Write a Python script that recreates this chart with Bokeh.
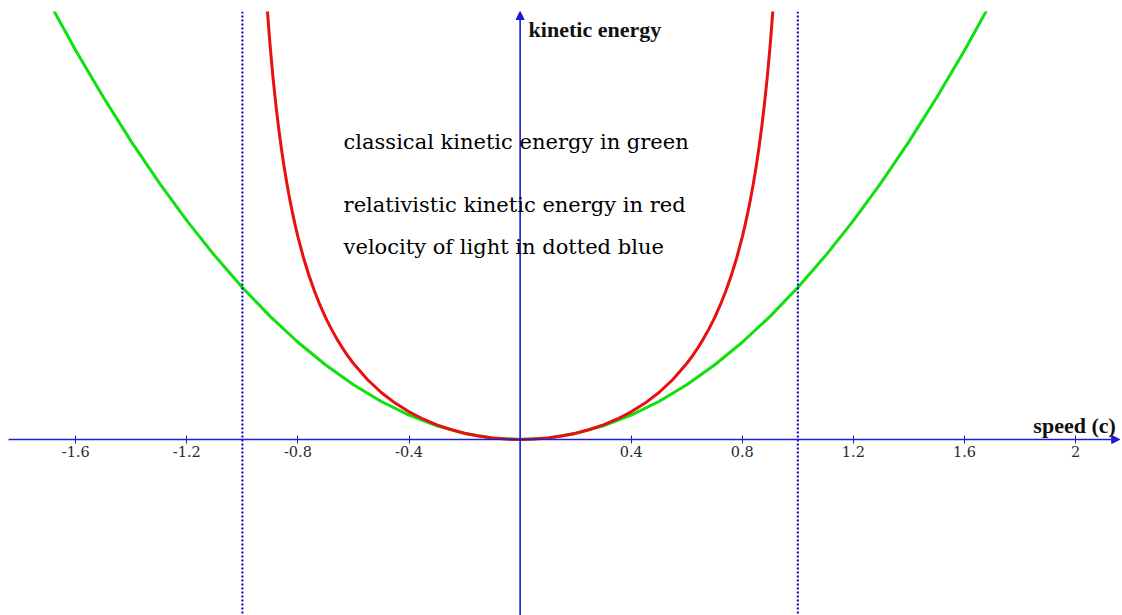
from bokeh.plotting import figure
from bokeh.models import (LinearAxis, FixedTicker, CustomJSTickFormatter, Span,
                          Arrow, NormalHead, Label, Range1d)
from bokeh.embed import file_html
from bokeh.resources import INLINE

# Speed in units of c (positive half; the curves are mirrored about v = 0)
speed_classical = [0.0, 0.1, 0.2, 0.3, 0.4, 0.5, 0.6, 0.7, 0.8, 0.9, 1.0,
                   1.1, 1.2, 1.3, 1.4, 1.5, 1.6, 1.7, 1.8]
# Classical kinetic energy (units of m c^2)
ke_classical = [0.0, 0.005, 0.02, 0.045, 0.08, 0.125, 0.18, 0.245, 0.32, 0.405, 0.5,
                0.605, 0.72, 0.845, 0.98, 1.125, 1.28, 1.445, 1.62]

speed_relativistic = [0.0, 0.05, 0.1, 0.15, 0.2, 0.25, 0.3, 0.35, 0.4, 0.45, 0.5, 0.55,
                      0.6, 0.62, 0.64, 0.66, 0.68, 0.7, 0.72, 0.74, 0.76, 0.78, 0.8,
                      0.81, 0.82, 0.83, 0.84, 0.85, 0.86, 0.87, 0.88, 0.89, 0.9,
                      0.905, 0.91, 0.915, 0.92, 0.93]
# Relativistic kinetic energy (units of m c^2)
ke_relativistic = [0.0, 0.00125, 0.00504, 0.01144, 0.02062, 0.03280, 0.04828, 0.06752,
                   0.09109, 0.11979, 0.15470, 0.19737, 0.25, 0.27453, 0.30145, 0.33109,
                   0.36386, 0.40028, 0.44098, 0.48675, 0.53864, 0.59801, 0.66667,
                   0.70523, 0.74714, 0.79288, 0.84302, 0.89832, 0.95966, 1.02819,
                   1.10538, 1.19317, 1.29416, 1.35067, 1.41192, 1.47860, 1.55155, 1.72064]

light_speed = [-1.0, 1.0]

tick_values = [-1.6, -1.2, -0.8, -0.4, 0.4, 0.8, 1.2, 1.6, 2.0]
tick_labels = ["-1.6", "-1.2", "-0.8", "-0.4", "0.4", "0.8", "1.2", "1.6", "2"]

notes = ["classical kinetic energy in green",
         "relativistic kinetic energy in red",
         "velocity of light in dotted blue"]


def mirrored(xs, ys):
    left_x = [-x for x in reversed(xs[1:])]
    left_y = list(reversed(ys[1:]))
    return left_x + list(xs), left_y + list(ys)


X_MIN, X_MAX = -1.871, 2.169
Y_MIN, Y_MAX = -0.579, 1.408

AXIS_BLUE = "#1c1cd0"
DOT_BLUE = "#0000c0"
GREEN = "#10e010"
RED = "#e81010"

p = figure(width=1122, height=615,
           x_range=Range1d(X_MIN, X_MAX), y_range=Range1d(Y_MIN, Y_MAX),
           x_axis_location=None, y_axis_location=None,
           toolbar_location=None, output_backend="svg",
           min_border=0, min_border_top=11,
           outline_line_color=None,
           background_fill_color="white", border_fill_color="white")
p.grid.visible = False

# vertical lines at the speed of light
for c in light_speed:
    p.add_layout(Span(location=c, dimension="height", line_color=DOT_BLUE,
                      line_width=2, line_dash="2 2"))

# axes drawn through the origin, with arrow heads
p.add_layout(Arrow(x_start=-1.842, y_start=0, x_end=2.159, y_end=0,
                   line_color=AXIS_BLUE, line_width=1.6,
                   end=NormalHead(size=8, fill_color=AXIS_BLUE, line_color=AXIS_BLUE)))
p.add_layout(Arrow(x_start=0, y_start=Y_MIN, x_end=0, y_end=Y_MAX,
                   line_color=AXIS_BLUE, line_width=1.6,
                   end=NormalHead(size=8, fill_color=AXIS_BLUE, line_color=AXIS_BLUE)))

xaxis = LinearAxis(
    ticker=FixedTicker(ticks=tick_values),
    formatter=CustomJSTickFormatter(
        args=dict(vals=tick_values, labs=tick_labels),
        code="const i = vals.findIndex(v => Math.abs(v - tick) < 1e-9); return i >= 0 ? labs[i] : '';"),
    fixed_location=0,
    axis_line_color=None,
    major_tick_line_color=AXIS_BLUE, major_tick_line_width=1,
    major_tick_in=4, major_tick_out=4,
    minor_tick_line_color=None,
    major_label_text_font="DejaVu Serif",
    major_label_text_font_size="14.5px",
    major_label_text_color="#2a2a2a",
    major_label_standoff=3,
)
p.add_layout(xaxis, "below")

# curves
gx, gy = mirrored(speed_classical, ke_classical)
p.line(gx, gy, line_color=GREEN, line_width=3, line_join="round")
rx, ry = mirrored(speed_relativistic, ke_relativistic)
p.line(rx, ry, line_color=RED, line_width=3, line_join="round")

# axis titles
p.add_layout(Label(x=0.0306, y=1.349, text="kinetic energy",
                   text_font="Liberation Serif", text_font_style="bold",
                   text_font_size="22px", text_color="#111111",
                   text_baseline="alphabetic"))
p.add_layout(Label(x=1.848, y=0.046, text="speed (c)",
                   text_font="Liberation Serif", text_font_style="bold",
                   text_font_size="22px", text_color="#111111",
                   text_baseline="alphabetic"))

# explanatory notes
for txt, yy in zip(notes, [0.978, 0.772, 0.6326]):
    p.add_layout(Label(x=-0.6356, y=yy, text=txt,
                       text_font="DejaVu Serif", text_font_size="21px",
                       text_color="#000000", text_baseline="alphabetic"))

open("out.html", "w").write(file_html(p, INLINE))
